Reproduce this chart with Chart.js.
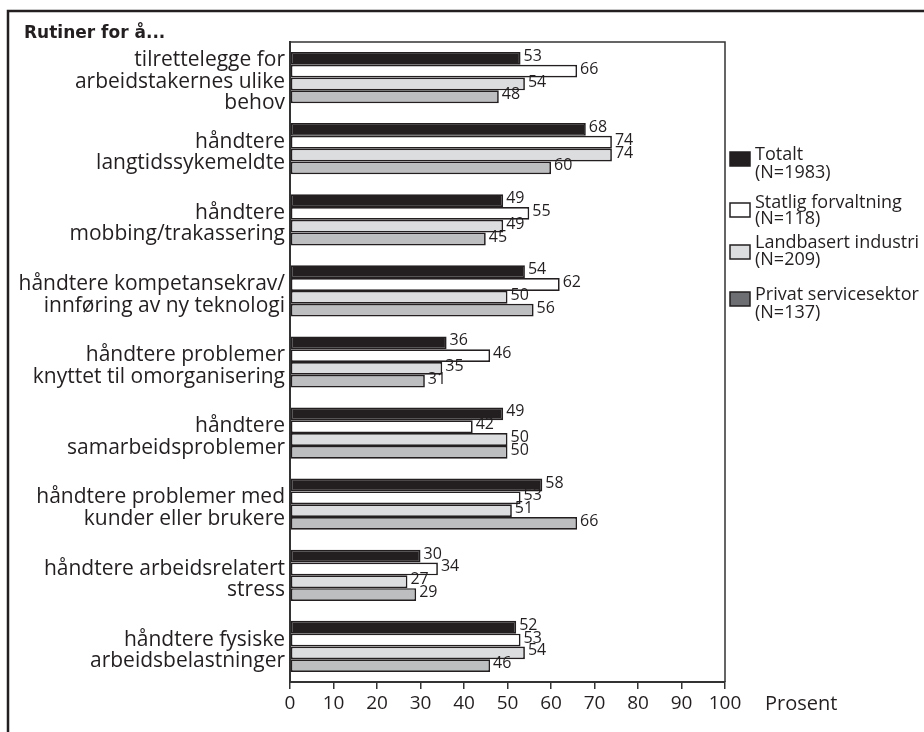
<!DOCTYPE html>
<html>
<head>
<meta charset="utf-8">
<script src="https://cdn.jsdelivr.net/npm/chart.js@4/dist/chart.umd.min.js"></script>
<style>
  html, body { margin: 0; padding: 0; background: #fff; }
  #wrap { width: 924px; height: 732px; }
</style>
</head>
<body>
<div id="wrap"><canvas id="rutinerChart" width="924" height="732"></canvas></div>
<script>
const categories = [
    ['tilrettelegge for', 'arbeidstakernes ulike', 'behov'],
    ['håndtere', 'langtidssykemeldte'],
    ['håndtere', 'mobbing/trakassering'],
    ['håndtere kompetansekrav/', 'innføring av ny teknologi'],
    ['håndtere problemer', 'knyttet til omorganisering'],
    ['håndtere', 'samarbeidsproblemer'],
    ['håndtere problemer med', 'kunder eller brukere'],
    ['håndtere arbeidsrelatert', 'stress'],
    ['håndtere fysiske', 'arbeidsbelastninger']
];
const totalt     = [53, 68, 49, 54, 36, 49, 58, 30, 52];
const statlig    = [66, 74, 55, 62, 46, 42, 53, 34, 53];
const landbasert = [54, 74, 49, 50, 35, 50, 51, 27, 54];
const privat     = [48, 60, 45, 56, 31, 50, 66, 29, 46];

const seriesNames = [
    ['Totalt', '(N=1983)'],
    ['Statlig forvaltning', '(N=118)'],
    ['Landbasert industri', '(N=209)'],
    ['Privat servicesektor', '(N=137)']
];
const xTicks = [0, 10, 20, 30, 40, 50, 60, 70, 80, 90, 100];

const FONT = '"Open Sans", "Noto Sans", sans-serif';
const INK = '#231f20';
const barColors = ['#231f20', '#ffffff', '#dcdddf', '#bcbec0'];
const legendColors = ['#231f20', '#ffffff', '#dcdddf', '#6d6e71'];

// frame, title, value labels, legend
const decorations = {
    id: 'decorations',
    afterDatasetsDraw(chart) {
        const ctx = chart.ctx;
        ctx.save();
        ctx.font = '16px ' + FONT;
        ctx.fillStyle = INK;
        ctx.textAlign = 'left';
        ctx.textBaseline = 'middle';
        chart.data.datasets.forEach((ds, i) => {
            chart.getDatasetMeta(i).data.forEach((bar, j) => {
                ctx.fillText(ds.data[j], bar.x + 3, bar.y - 2);
            });
        });
        ctx.restore();
    },
    afterDraw(chart) {
        const ctx = chart.ctx;
        const a = chart.chartArea;
        ctx.save();
        // outer frame
        ctx.strokeStyle = INK;
        ctx.lineWidth = 2.5;
        ctx.beginPath();
        ctx.moveTo(8, 740);
        ctx.lineTo(8, 11);
        ctx.lineTo(930, 11);
        ctx.stroke();
        // plot box top + right
        ctx.lineWidth = 1.5;
        ctx.strokeStyle = '#333';
        ctx.beginPath();
        ctx.moveTo(a.left, a.top);
        ctx.lineTo(a.right, a.top);
        ctx.lineTo(a.right, a.bottom);
        ctx.stroke();
        // title
        ctx.fillStyle = INK;
        ctx.font = 'bold 17px "DejaVu Sans", sans-serif';
        ctx.textBaseline = 'alphabetic';
        ctx.fillText('Rutiner for å...', 24, 38);
        // axis unit
        ctx.font = '20px ' + FONT;
        ctx.textBaseline = 'middle';
        ctx.fillText('Prosent', 765, 704);
        // legend
        const boxTops = [152, 203, 245, 292];
        const textRows = [[155, 173], [203, 219], [243, 260], [295, 313]];
        ctx.font = '18px ' + FONT;
        seriesNames.forEach((name, i) => {
            ctx.fillStyle = legendColors[i];
            ctx.fillRect(730, boxTops[i], 20, 14);
            ctx.lineWidth = 1.5;
            ctx.strokeStyle = INK;
            ctx.strokeRect(730, boxTops[i], 20, 14);
            ctx.fillStyle = INK;
            ctx.fillText(name[0], 755, textRows[i][0]);
            ctx.fillText(name[1], 755, textRows[i][1]);
        });
        ctx.restore();
    }
};

const ctx = document.getElementById('rutinerChart').getContext('2d');
new Chart(ctx, {
    type: 'bar',
    data: {
        labels: categories,
        datasets: [totalt, statlig, landbasert, privat].map((d, i) => ({
            label: seriesNames[i].join(' '),
            data: d,
            backgroundColor: barColors[i],
            borderColor: INK,
            borderWidth: 1.7,
            borderSkipped: false,
            barPercentage: 1.0,
            categoryPercentage: 0.72
        }))
    },
    options: {
        indexAxis: 'y',
        responsive: false,
        animation: false,
        layout: { padding: { top: 42, right: 199, bottom: 0, left: 0 } },
        plugins: {
            legend: { display: false },
            tooltip: { enabled: false }
        },
        scales: {
            x: {
                min: 0,
                max: 100,
                afterFit: s => { s.height = 50; },
                afterBuildTicks: s => { s.ticks = xTicks.map(v => ({ value: v })); },
                grid: { drawOnChartArea: false, drawTicks: true, tickLength: 7, color: '#333', lineWidth: 1.5 },
                border: { display: true, color: '#333', width: 2 },
                ticks: { color: INK, font: { family: FONT, size: 19 }, padding: 3, maxRotation: 0 }
            },
            y: {
                afterFit: s => { s.width = 290; },
                grid: { display: false, drawTicks: false },
                border: { display: true, color: '#333', width: 2 },
                ticks: { color: INK, font: { family: FONT, size: 21, lineHeight: 1.02 }, padding: 5, labelOffset: 4 }
            }
        }
    },
    plugins: [decorations]
});
</script>
</body>
</html>
